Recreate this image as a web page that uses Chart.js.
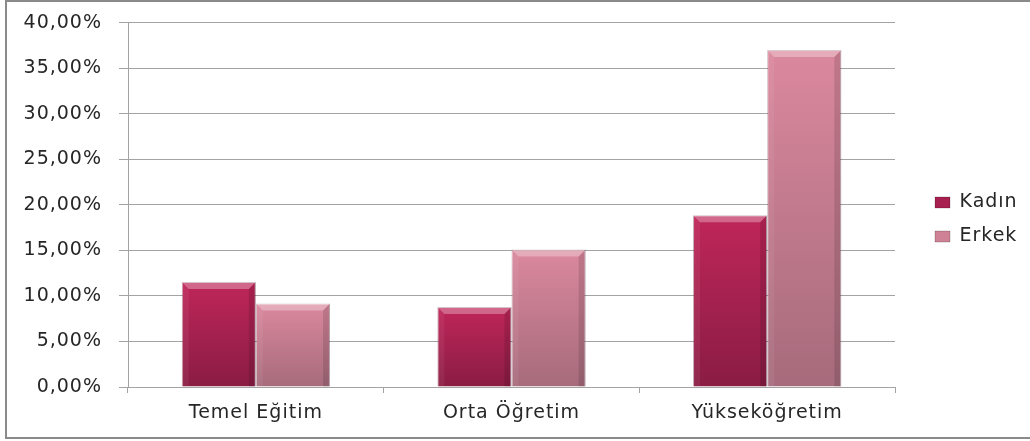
<!DOCTYPE html>
<html><head><meta charset="utf-8">
<script src="https://cdn.jsdelivr.net/npm/chart.js@4/dist/chart.umd.min.js"></script>
<style>
html,body{margin:0;padding:0;background:#fff;overflow:hidden;}
#wrap{position:relative;width:1030px;height:441px;}
#frame{position:absolute;left:5px;top:0px;width:1030px;height:435px;border:2px solid #8a8a8a;pointer-events:none;box-sizing:content-box;}
canvas{position:absolute;left:0;top:0;}
</style></head><body>
<div id="wrap"><canvas id="c" width="1030" height="441"></canvas><div id="frame"></div></div>
<script>
const categories = ['Temel Eğitim', 'Orta Öğretim', 'Yükseköğretim'];
const seriesNames = ['Kadın', 'Erkek'];
const kadinValues = [11.54, 8.79, 18.87];
const erkekValues = [9.16, 15.10, 37.00];
const yTickValues = [0, 5, 10, 15, 20, 25, 30, 35, 40];

const FAMILY = 'DejaVu Sans';
const FONT = {family: FAMILY, size: 19};
const TEXT = '#262626';
const GRID = '#a3a3a3';

function barFill(topC, botC) {
  return (ctx) => {
    const chart = ctx.chart;
    const y = chart.scales && chart.scales.y;
    if (!y || ctx.type !== 'data') return topC;
    const y0 = y.getPixelForValue(ctx.raw);
    const y1 = y.getPixelForValue(0);
    if (!isFinite(y0) || !isFinite(y1) || y0 === y1) return topC;
    const g = chart.ctx.createLinearGradient(0, y0, 0, y1);
    g.addColorStop(0, topC);
    g.addColorStop(1, botC);
    return g;
  };
}

const spacingPlugin = {
  id: 'spacing',
  beforeLayout(chart) { chart.ctx.letterSpacing = '1px'; },
  beforeDraw(chart) { chart.ctx.letterSpacing = '1px'; }
};

const legendPlace = {
  id: 'legendPlace',
  beforeInit(chart) {
    const fit = chart.legend.fit;
    chart.legend.fit = function () { fit.call(this); this.width = 135; };
  },
  afterLayout(chart) {
    const lg = chart.legend;
    const dx = 25, dy = -1;
    lg.left += dx; lg.right += dx;
    lg.top += dy; lg.bottom += dy;
  }
};

const bevel = {
  id: 'bevel',
  afterDatasetsDraw(chart) {
    const ctx = chart.ctx;
    chart.getSortedVisibleDatasetMetas().forEach(meta => {
      meta.data.forEach(bar => {
        const p = bar.getProps(['x', 'y', 'base', 'width'], true);
        const l = p.x - p.width / 2, r = p.x + p.width / 2, t = p.y, b = p.base, d = 7;
        ctx.save();
        ctx.fillStyle = 'rgba(255,255,255,0.30)';
        ctx.beginPath(); ctx.moveTo(l, t); ctx.lineTo(r, t); ctx.lineTo(r - d, t + d); ctx.lineTo(l + d, t + d); ctx.closePath(); ctx.fill();
        ctx.fillStyle = 'rgba(255,255,255,0.06)';
        ctx.beginPath(); ctx.moveTo(l, t); ctx.lineTo(l + d, t + d); ctx.lineTo(l + d, b); ctx.lineTo(l, b); ctx.closePath(); ctx.fill();
        ctx.fillStyle = 'rgba(0,0,0,0.12)';
        ctx.beginPath(); ctx.moveTo(r, t); ctx.lineTo(r, b); ctx.lineTo(r - d, b); ctx.lineTo(r - d, t + d); ctx.closePath(); ctx.fill();
        ctx.restore();
      });
    });
  }
};

const legendColors = ['#a82050', '#cf8296'];

new Chart(document.getElementById('c'), {
  type: 'bar',
  data: {
    labels: categories,
    datasets: [
      {label: seriesNames[0], data: kadinValues, backgroundColor: barFill('#bf2659', '#8a1c44'), borderColor: 'rgba(90,10,40,0.35)', borderWidth: 1},
      {label: seriesNames[1], data: erkekValues, backgroundColor: barFill('#db889d', '#a66b7c'), borderColor: 'rgba(110,50,70,0.35)', borderWidth: 1}
    ]
  },
  options: {
    responsive: false,
    animation: false,
    devicePixelRatio: 1,
    layout: {padding: {top: 0, left: 0, right: 0, bottom: 0}},
    datasets: {bar: {categoryPercentage: 0.58, barPercentage: 1.0}},
    plugins: {
      tooltip: {enabled: false},
      legend: {
        position: 'right',
        labels: {
          font: FONT, color: TEXT, boxWidth: 15, boxHeight: 11, padding: 15,
          generateLabels(chart) {
            const items = Chart.defaults.plugins.legend.labels.generateLabels(chart);
            items.forEach((it, i) => { it.fillStyle = legendColors[i]; it.strokeStyle = 'rgba(0,0,0,0.2)'; it.lineWidth = 1; });
            return items;
          }
        }
      }
    },
    scales: {
      x: {
        afterFit(s) { s.height = 54; },
        grid: {offset: true, drawOnChartArea: false, color: GRID, tickLength: 6},
        border: {color: GRID, width: 1},
        ticks: {font: FONT, color: TEXT, padding: 9}
      },
      y: {
        min: 0, max: 40,
        afterFit(s) { s.width = 128; },
        afterBuildTicks(s) { s.ticks = yTickValues.map(v => ({value: v})); },
        grid: {color: GRID, tickLength: 9},
        border: {color: GRID, width: 1},
        ticks: {
          font: {family: FAMILY, size: 19, lineHeight: 0.6}, color: TEXT, padding: 17,
          callback: v => v.toFixed(2).replace('.', ',') + '%'
        }
      }
    }
  },
  plugins: [spacingPlugin, legendPlace, bevel]
});
</script>
</body></html>
